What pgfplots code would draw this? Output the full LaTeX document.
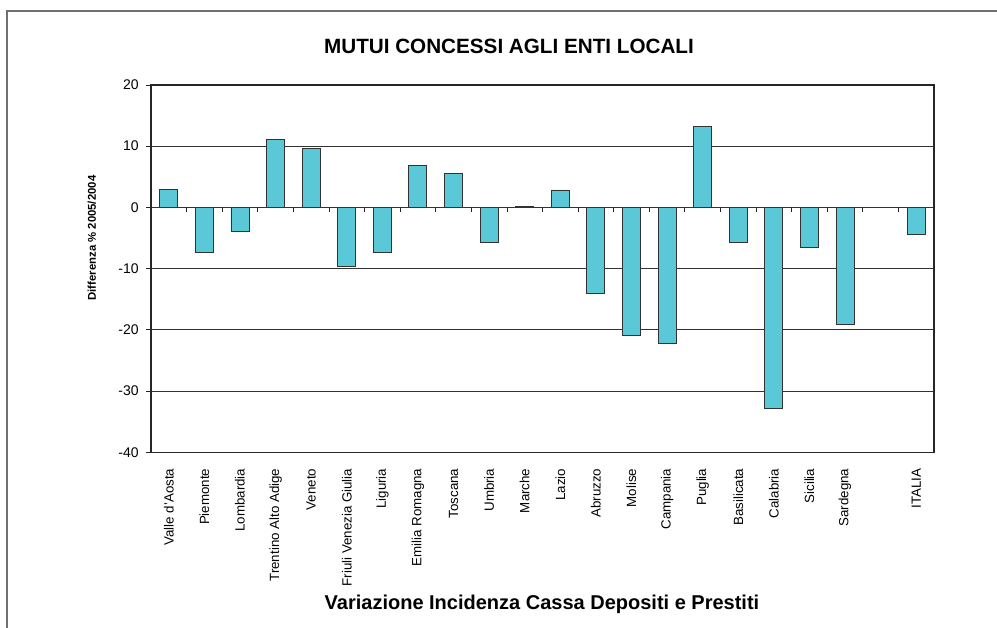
\documentclass[border=0pt]{standalone}
\usepackage{pgfplots}
\pgfplotsset{compat=1.18}
\usepackage{fontspec}
\setmainfont{Liberation Sans}
\definecolor{barfill}{HTML}{5BC8D8}
\definecolor{frame}{HTML}{707070}
\begin{document}
\begin{tikzpicture}[x=0.75pt,y=0.75pt]
\useasboundingbox (0,0) rectangle (997,628);
\draw[frame, line width=1.2pt] (7,0) -- (7,617) -- (997,617);
\node[font=\bfseries\fontsize{15.5}{18}\selectfont] at (509,582) {MUTUI CONCESSI AGLI ENTI LOCALI};
\node[font=\bfseries\fontsize{15}{18}\selectfont] at (542,24) {Variazione Incidenza Cassa Depositi e Prestiti};
\node[font=\bfseries\fontsize{8.5}{10}\selectfont, rotate=90] at (92,390) {Differenza \% 2005/2004};
\begin{axis}[
  at={(113.25pt,131.8pt)}, anchor=south west,
  scale only axis, width=587.25pt, height=275.5pt,
  xmin=-0.5, xmax=21.5, ymin=-40, ymax=20,
  ytick={-40,-30,-20,-10,0,10,20},
  ytick pos=left,
  /pgf/number format/assume math mode=true,
  ymajorgrids, grid style={black!80, line width=0.6pt},
  axis line style={black!85, line width=1pt},
  tick align=outside, major tick length=3.75pt,
  ytick style={black!85, line width=0.6pt},
  xtick={0,1,2,3,4,5,6,7,8,9,10,11,12,13,14,15,16,17,18,19,21},
  xticklabels={Valle d'Aosta,Piemonte,Lombardia,Trentino Alto Adige,Veneto,Friuli Venezia Giulia,Liguria,Emilia Romagna,Toscana,Umbria,Marche,Lazio,Abruzzo,Molise,Campania,Puglia,Basilicata,Calabria,Sicilia,Sardegna,ITALIA},
  xtick style={draw=none},
  xticklabel style={font=\fontsize{10}{12}\selectfont, yshift=-5pt, rotate=90, anchor=east},
  yticklabel style={font=\fontsize{10.5}{12}\selectfont, xshift=-2pt},
  ybar, bar width=13.5pt,
  clip=false,
]
\addplot[fill=barfill, draw=black!80, line width=0.7pt] coordinates {
 (0,2.95) (1,-7.38) (2,-3.93) (3,11.04) (4,9.67) (5,-9.73) (6,-7.38) (7,6.78) (8,5.52) (9,-5.68) (10,0.22)
 (11,2.84) (12,-14.1) (13,-20.93) (14,-22.24) (15,13.22) (16,-5.79) (17,-32.79) (18,-6.5) (19,-19.07) (21,-4.43)
};
\pgfplotsinvokeforeach{-0.5,0.5,...,21.5}{
  \draw[black!85, line width=0.6pt] (axis cs:#1,0) -- (axis cs:#1,-0.8);
}
\end{axis}
\end{tikzpicture}
\end{document}
